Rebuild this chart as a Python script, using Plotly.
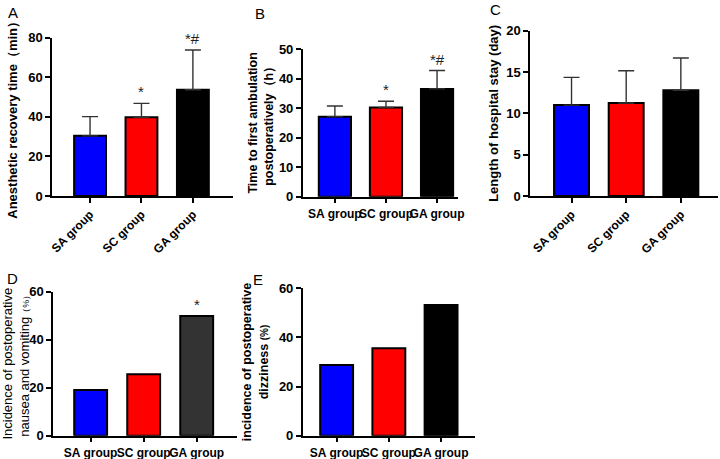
import plotly.graph_objects as go

# data
groups = ["SA group", "SC group", "GA group"]

recovery_time = [30.4, 39.8, 53.7]       # A, min
recovery_sd = [9.7, 7.0, 20.1]
ambulation_time = [27.1, 30.2, 36.5]     # B, h
ambulation_sd = [3.6, 2.1, 6.2]
hospital_stay = [11.0, 11.25, 12.8]      # C, day
hospital_sd = [3.35, 3.9, 3.9]
ponv_rate = [19.0, 25.6, 49.9]           # D, %
dizziness_rate = [28.8, 35.6, 53.2]      # E, %

marks_a = ["", "*", "*#"]
marks_b = ["", "*", "*#"]
marks_d = ["", "", "*"]

colors = ["#0000FF", "#FF0000", "#000000"]
colors_d = ["#0000FF", "#FF0000", "#333333"]

W, H = 720, 459

def px(x0, x1):
    return [x0 / W, x1 / W]

def py(top, bottom):
    return [1 - bottom / H, 1 - top / H]

# panel layout: x-domain px, y-domain px (top, bottom), category range, y range, dtick
panels = [
    dict(name="A", x=px(52, 233), y=py(37.7, 196), xr=[-0.74, 2.78], yr=[0, 80], dt=20,
         vals=recovery_time, err=recovery_sd, marks=marks_a, cols=colors, w=0.62, angle=-45,
         title="Anesthetic recovery time\uff08min\uff09", bold=True, standoff=8, size=13),
    dict(name="B", x=px(302.7, 458), y=py(49, 196.7), xr=[-0.63, 2.41], yr=[0, 50], dt=10,
         vals=ambulation_time, err=ambulation_sd, marks=marks_b, cols=colors, w=0.63, angle=0,
         title="Time to first ambulation<br>postoperatively\uff08h\uff09", bold=True, standoff=2, size=12.5),
    dict(name="C", x=px(530, 718), y=py(30.7, 196), xr=[-0.76, 2.68], yr=[0, 20], dt=5,
         vals=hospital_stay, err=hospital_sd, marks=None, cols=colors, w=0.64, angle=-45,
         title="Length of hospital stay (day)", bold=True, standoff=5, size=13),
    dict(name="D", x=px(53, 237), y=py(291.7, 435.7), xr=[-0.71, 2.76], yr=[0, 60], dt=20,
         vals=ponv_rate, err=None, marks=marks_d, cols=colors_d, w=0.62, angle=0,
         title="Incidence of postoperative<br>nausea and vomiting<span style='font-size:9px'>\uff08%\uff09</span>",
         bold=False, standoff=8, size=13),
    dict(name="E", x=px(302.7, 475), y=py(288.3, 435.7), xr=[-0.65, 2.65], yr=[0, 60], dt=20,
         vals=dizziness_rate, err=None, marks=None, cols=colors, w=0.63, angle=0,
         title="incidence of postoperative<br>dizziness <span style='font-size:10px'>(%)</span>",
         bold=True, standoff=8, size=12.5),
]

letters = [("A", 6, 12), ("B", 253, 14), ("C", 488, 9), ("D", 5, 278), ("E", 251, 279)]

fig = go.Figure()
annotations = []
layout = {}

for i, p in enumerate(panels):
    k = "" if i == 0 else str(i + 1)
    xa, ya = "x" + k, "y" + k
    bar = dict(
        x=groups, y=p["vals"], xaxis=xa, yaxis=ya, width=p["w"],
        marker=dict(color=p["cols"], line=dict(color="#000000", width=2)),
        showlegend=False,
    )
    if p["err"] is not None:
        bar["error_y"] = dict(type="data", array=p["err"], arrayminus=[0, 0, 0],
                              symmetric=False, color="#333333", thickness=1.4, width=8)
    fig.add_trace(go.Bar(**bar))

    if p["marks"]:
        for j, m in enumerate(p["marks"]):
            if not m:
                continue
            top = p["vals"][j] + (p["err"][j] if p["err"] else 0)
            annotations.append(dict(
                x=groups[j], y=top, xref=xa, yref=ya, text=m, showarrow=False,
                yanchor="bottom", yshift=1,
                font=dict(family="Liberation Sans, Arial", size=15, color="#222222")))

    tfont = dict(family="Liberation Sans, Arial", size=13, color="#000000", weight="bold")
    xfont = dict(family="Liberation Sans, Arial", size=12, color="#000000", weight="bold")
    layout["xaxis" + k] = dict(
        domain=p["x"], anchor=ya, range=p["xr"], type="category",
        showline=True, linecolor="#000000", linewidth=1.5,
        ticks="outside", ticklen=5, tickwidth=1.5, tickcolor="#000000",
        tickangle=p["angle"], tickfont=xfont, showgrid=False, zeroline=False,
        automargin=False, fixedrange=True,
    )
    layout["yaxis" + k] = dict(
        domain=p["y"], anchor=xa, range=p["yr"], dtick=p["dt"], tick0=0,
        showline=True, linecolor="#000000", linewidth=1.5,
        ticks="outside", ticklen=5, tickwidth=1.5, tickcolor="#000000",
        tickfont=tfont, showgrid=False, zeroline=False, automargin=False,
        title=dict(text=p["title"], standoff=p["standoff"],
                   font=dict(family="Liberation Sans, Arial", size=p["size"], color="#000000",
                             weight="bold" if p["bold"] else "normal")),
    )

for name, lx, ly in letters:
    annotations.append(dict(
        x=lx / W, y=1 - ly / H, xref="paper", yref="paper", text=name, showarrow=False,
        xanchor="left", yanchor="middle",
        font=dict(family="Liberation Sans, Arial", size=15, color="#000000")))

fig.update_layout(
    width=W, height=H,
    margin=dict(l=0, r=0, t=0, b=0),
    paper_bgcolor="white", plot_bgcolor="white",
    annotations=annotations,
    **layout,
)

# the page body has a default 8px margin; drop it so the figure fills the window
fig.write_html("out.html", config={"displayModeBar": False},
               post_script="document.body.style.margin='0';document.body.style.overflow='hidden';")
